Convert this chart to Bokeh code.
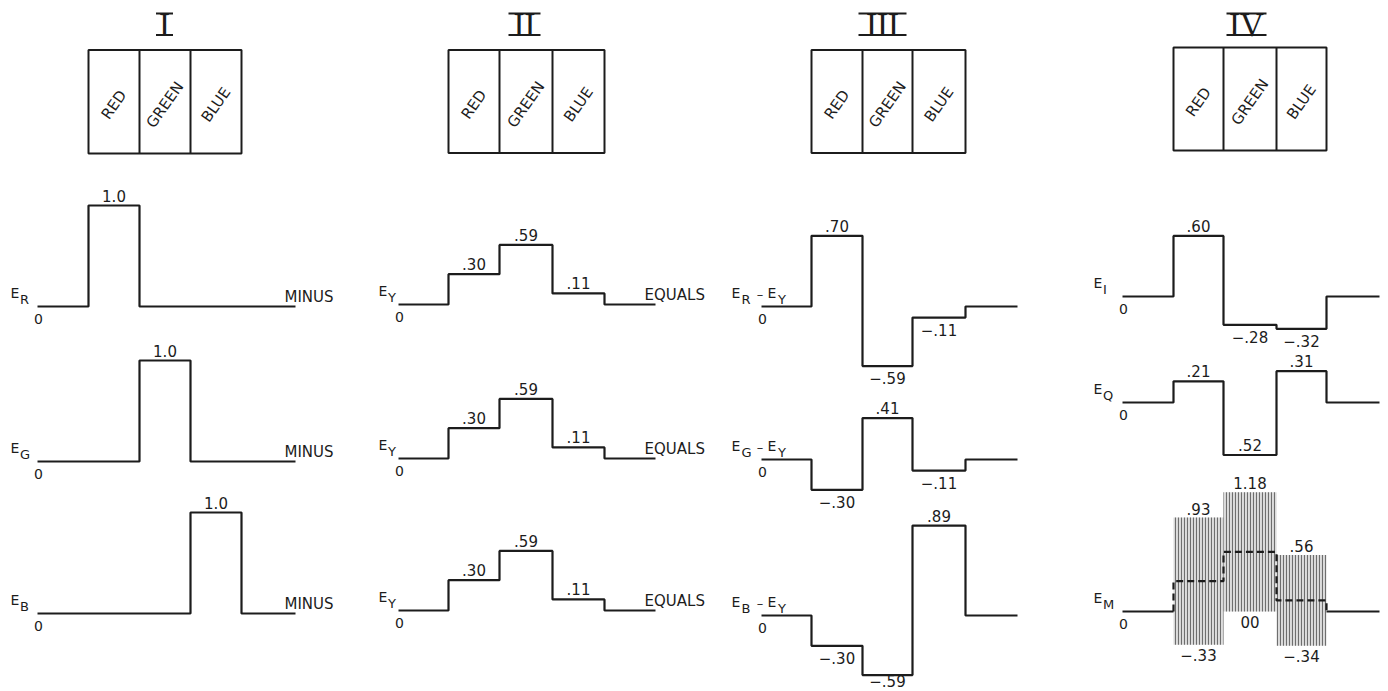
import math
from bokeh.plotting import figure
from bokeh.models import Range1d
from bokeh.embed import file_html
from bokeh.resources import INLINE
from bokeh.core.properties import value

# ---------------- data ----------------
numerals = ["I", "II", "III", "IV"]
primaries = ["RED", "GREEN", "BLUE"]

# signal level during the red, green and blue bars
E_R = [1.0, 0.0, 0.0]
E_G = [0.0, 1.0, 0.0]
E_B = [0.0, 0.0, 1.0]
E_Y = [0.30, 0.59, 0.11]
E_R_minus_E_Y = [0.70, -0.59, -0.11]
E_G_minus_E_Y = [-0.30, 0.41, -0.11]
E_B_minus_E_Y = [-0.30, -0.59, 0.89]
E_I = [0.60, -0.28, -0.32]
E_Q = [0.21, -0.52, 0.31]
E_M_lum = [0.30, 0.59, 0.11]
E_M_max = [0.93, 1.18, 0.56]
E_M_min = [-0.33, 0.00, -0.34]

# printed value labels
lab_R = ["1.0", None, None]
lab_G = [None, "1.0", None]
lab_B = [None, None, "1.0"]
lab_Y = [".30", ".59", ".11"]
lab_RY = [".70", "\u2212.59", "\u2212.11"]
lab_GY = ["\u2212.30", ".41", "\u2212.11"]
lab_BY = ["\u2212.30", "\u2212.59", ".89"]
lab_I = [".60", "\u2212.28", "\u2212.32"]
lab_Q = [".21", ".52", ".31"]
lab_M_max = [".93", "1.18", ".56"]
lab_M_min = ["\u2212.33", "00", "\u2212.34"]

# ---------------- layout (pixels) ----------------
S = 101.0  # pixels per unit of signal
INK = "#1c1c1c"
SANS = "DejaVu Sans"
W, H = 1388, 691
panel_x = {
    0: [37, 88, 139, 190, 241, 295],
    1: [398, 448, 499, 552, 604, 655],
    2: [761, 811, 862, 912, 965, 1017],
    3: [1122, 1173, 1223, 1276, 1326, 1379],
}
label_left = {0: 10, 1: 378, 2: 731, 3: 1093}
title_cx = {0: 164, 1: 524, 2: 882, 3: 1246}
title_w = {0: 17, 1: 32, 2: 48, 3: 40}
box_tb = {0: (49.5, 153), 1: (49.5, 152.5), 2: (49.5, 152.5), 3: (47, 150)}

rows = [
    (0, 306, E_R, ["R"], lab_R, None, "MINUS"),
    (0, 461, E_G, ["G"], lab_G, None, "MINUS"),
    (0, 613, E_B, ["B"], lab_B, None, "MINUS"),
    (1, 304, E_Y, ["Y"], lab_Y, None, "EQUALS"),
    (1, 458, E_Y, ["Y"], lab_Y, None, "EQUALS"),
    (1, 610, E_Y, ["Y"], lab_Y, None, "EQUALS"),
    (2, 306, E_R_minus_E_Y, ["R", "Y"], lab_RY, None, None),
    (2, 459, E_G_minus_E_Y, ["G", "Y"], lab_GY, None, None),
    (2, 615, E_B_minus_E_Y, ["B", "Y"], lab_BY, None, None),
    (3, 296, E_I, ["I"], lab_I, None, None),
    (3, 402, E_Q, ["Q"], lab_Q, ["above", "above", "above"], None),
]
EM_panel, EM_base = 3, 611

p = figure(width=W, height=H, x_range=Range1d(0, W), y_range=Range1d(H, 0),
           output_backend="svg", toolbar_location=None, x_axis_type=None, y_axis_type=None,
           min_border=0, outline_line_color=None, background_fill_color="white")


def txt(xs, ys, texts, size, align="center", baseline="middle", angle=0.0, font=SANS):
    p.text(x=xs, y=ys, text=texts, text_font=value(font), text_font_size=f"{size}px",
           text_align=align, text_baseline=baseline, angle=angle, text_color=INK)


def ypix(base, v):
    return base - v * S


# ---------------- headers ----------------
for k in range(4):
    xs = panel_x[k]
    top, bot = box_tb[k]
    cx = title_cx[k]
    w = title_w[k]
    txt([cx], [24.5], [numerals[k]], 33, font="Liberation Serif")
    p.segment(x0=[cx - w / 2] * 2, x1=[cx + w / 2] * 2, y0=[13, 34.5], y1=[13, 34.5],
              line_color=INK, line_width=2.2)
    p.quad(left=[xs[1]], right=[xs[4]], top=[top], bottom=[bot], fill_color=None,
           line_color=INK, line_width=2)
    p.segment(x0=[xs[2], xs[3]], x1=[xs[2], xs[3]], y0=[top] * 2, y1=[bot] * 2,
              line_color=INK, line_width=2)
    cxs = [(xs[i + 1] + xs[i + 2]) / 2 for i in range(3)]
    txt(cxs, [(top + bot) / 2 + 3] * 3, primaries, 15, angle=math.radians(55))


def symbol(k, base, subs):
    x0 = label_left[k]
    if len(subs) == 1:
        txt([x0], [base - 14], ["E"], 14, align="left")
        txt([x0 + 9.5], [base - 7], [subs[0]], 13, align="left")
    else:
        txt([x0, x0 + 36], [base - 14] * 2, ["E", "E"], 14, align="left")
        txt([x0 + 10, x0 + 46.5], [base - 7] * 2, subs, 13, align="left")
        txt([x0 + 28.5], [base - 12], ["\u2013"], 13)
    txt([panel_x[k][0] + 1], [base + 12], ["0"], 14)


# ---------------- waveforms ----------------
for (k, base, lev, subs, labs, sides, conn) in rows:
    xs = panel_x[k]
    lx = [xs[0], xs[1], xs[1], xs[2], xs[2], xs[3], xs[3], xs[4], xs[4], xs[5]]
    lv = [0, 0, lev[0], lev[0], lev[1], lev[1], lev[2], lev[2], 0, 0]
    p.line(x=lx, y=[ypix(base, v) for v in lv], line_color=INK, line_width=2.2)
    symbol(k, base, subs)
    tx, ty, tt = [], [], []
    for i in range(3):
        if labs[i] is None:
            continue
        side = sides[i] if sides else ("above" if lev[i] > 0 else "below")
        tx.append((xs[i + 1] + xs[i + 2]) / 2)
        ty.append(min(ypix(base, lev[i]) + (-10 if side == "above" else 12), H - 11))
        tt.append(labs[i])
    txt(tx, ty, tt, 15)
    if conn:
        txt([xs[5] - 11], [base - 10], [conn], 15, align="left")

# ---------------- E_M (modulated) ----------------
xs = panel_x[EM_panel]
p.quad(left=xs[1:4], right=xs[2:5], top=[ypix(EM_base, v) for v in E_M_max],
       bottom=[ypix(EM_base, v) for v in E_M_min], fill_color="#dcdcdc", line_color=None,
       hatch_pattern="|", hatch_color="#6e6e6e", hatch_scale=3.0, hatch_weight=1.1)
p.line(x=[xs[0], xs[1]], y=[EM_base, EM_base], line_color=INK, line_width=2.2)
p.line(x=[xs[4], xs[5]], y=[EM_base, EM_base], line_color=INK, line_width=2.2)
mx = [xs[1], xs[1], xs[2], xs[2], xs[3], xs[3], xs[4], xs[4]]
mv = [0, E_M_lum[0], E_M_lum[0], E_M_lum[1], E_M_lum[1], E_M_lum[2], E_M_lum[2], 0]
p.line(x=mx, y=[ypix(EM_base, v) for v in mv], line_color=INK, line_width=2.2,
       line_dash="7 4")
symbol(EM_panel, EM_base, ["M"])
cx3 = [(xs[i + 1] + xs[i + 2]) / 2 for i in range(3)]
txt(cx3, [ypix(EM_base, v) - 9 for v in E_M_max], lab_M_max, 15)
txt(cx3, [ypix(EM_base, v) + 10 for v in E_M_min], lab_M_min, 15)

open("out.html", "w").write(file_html(p, INLINE))
